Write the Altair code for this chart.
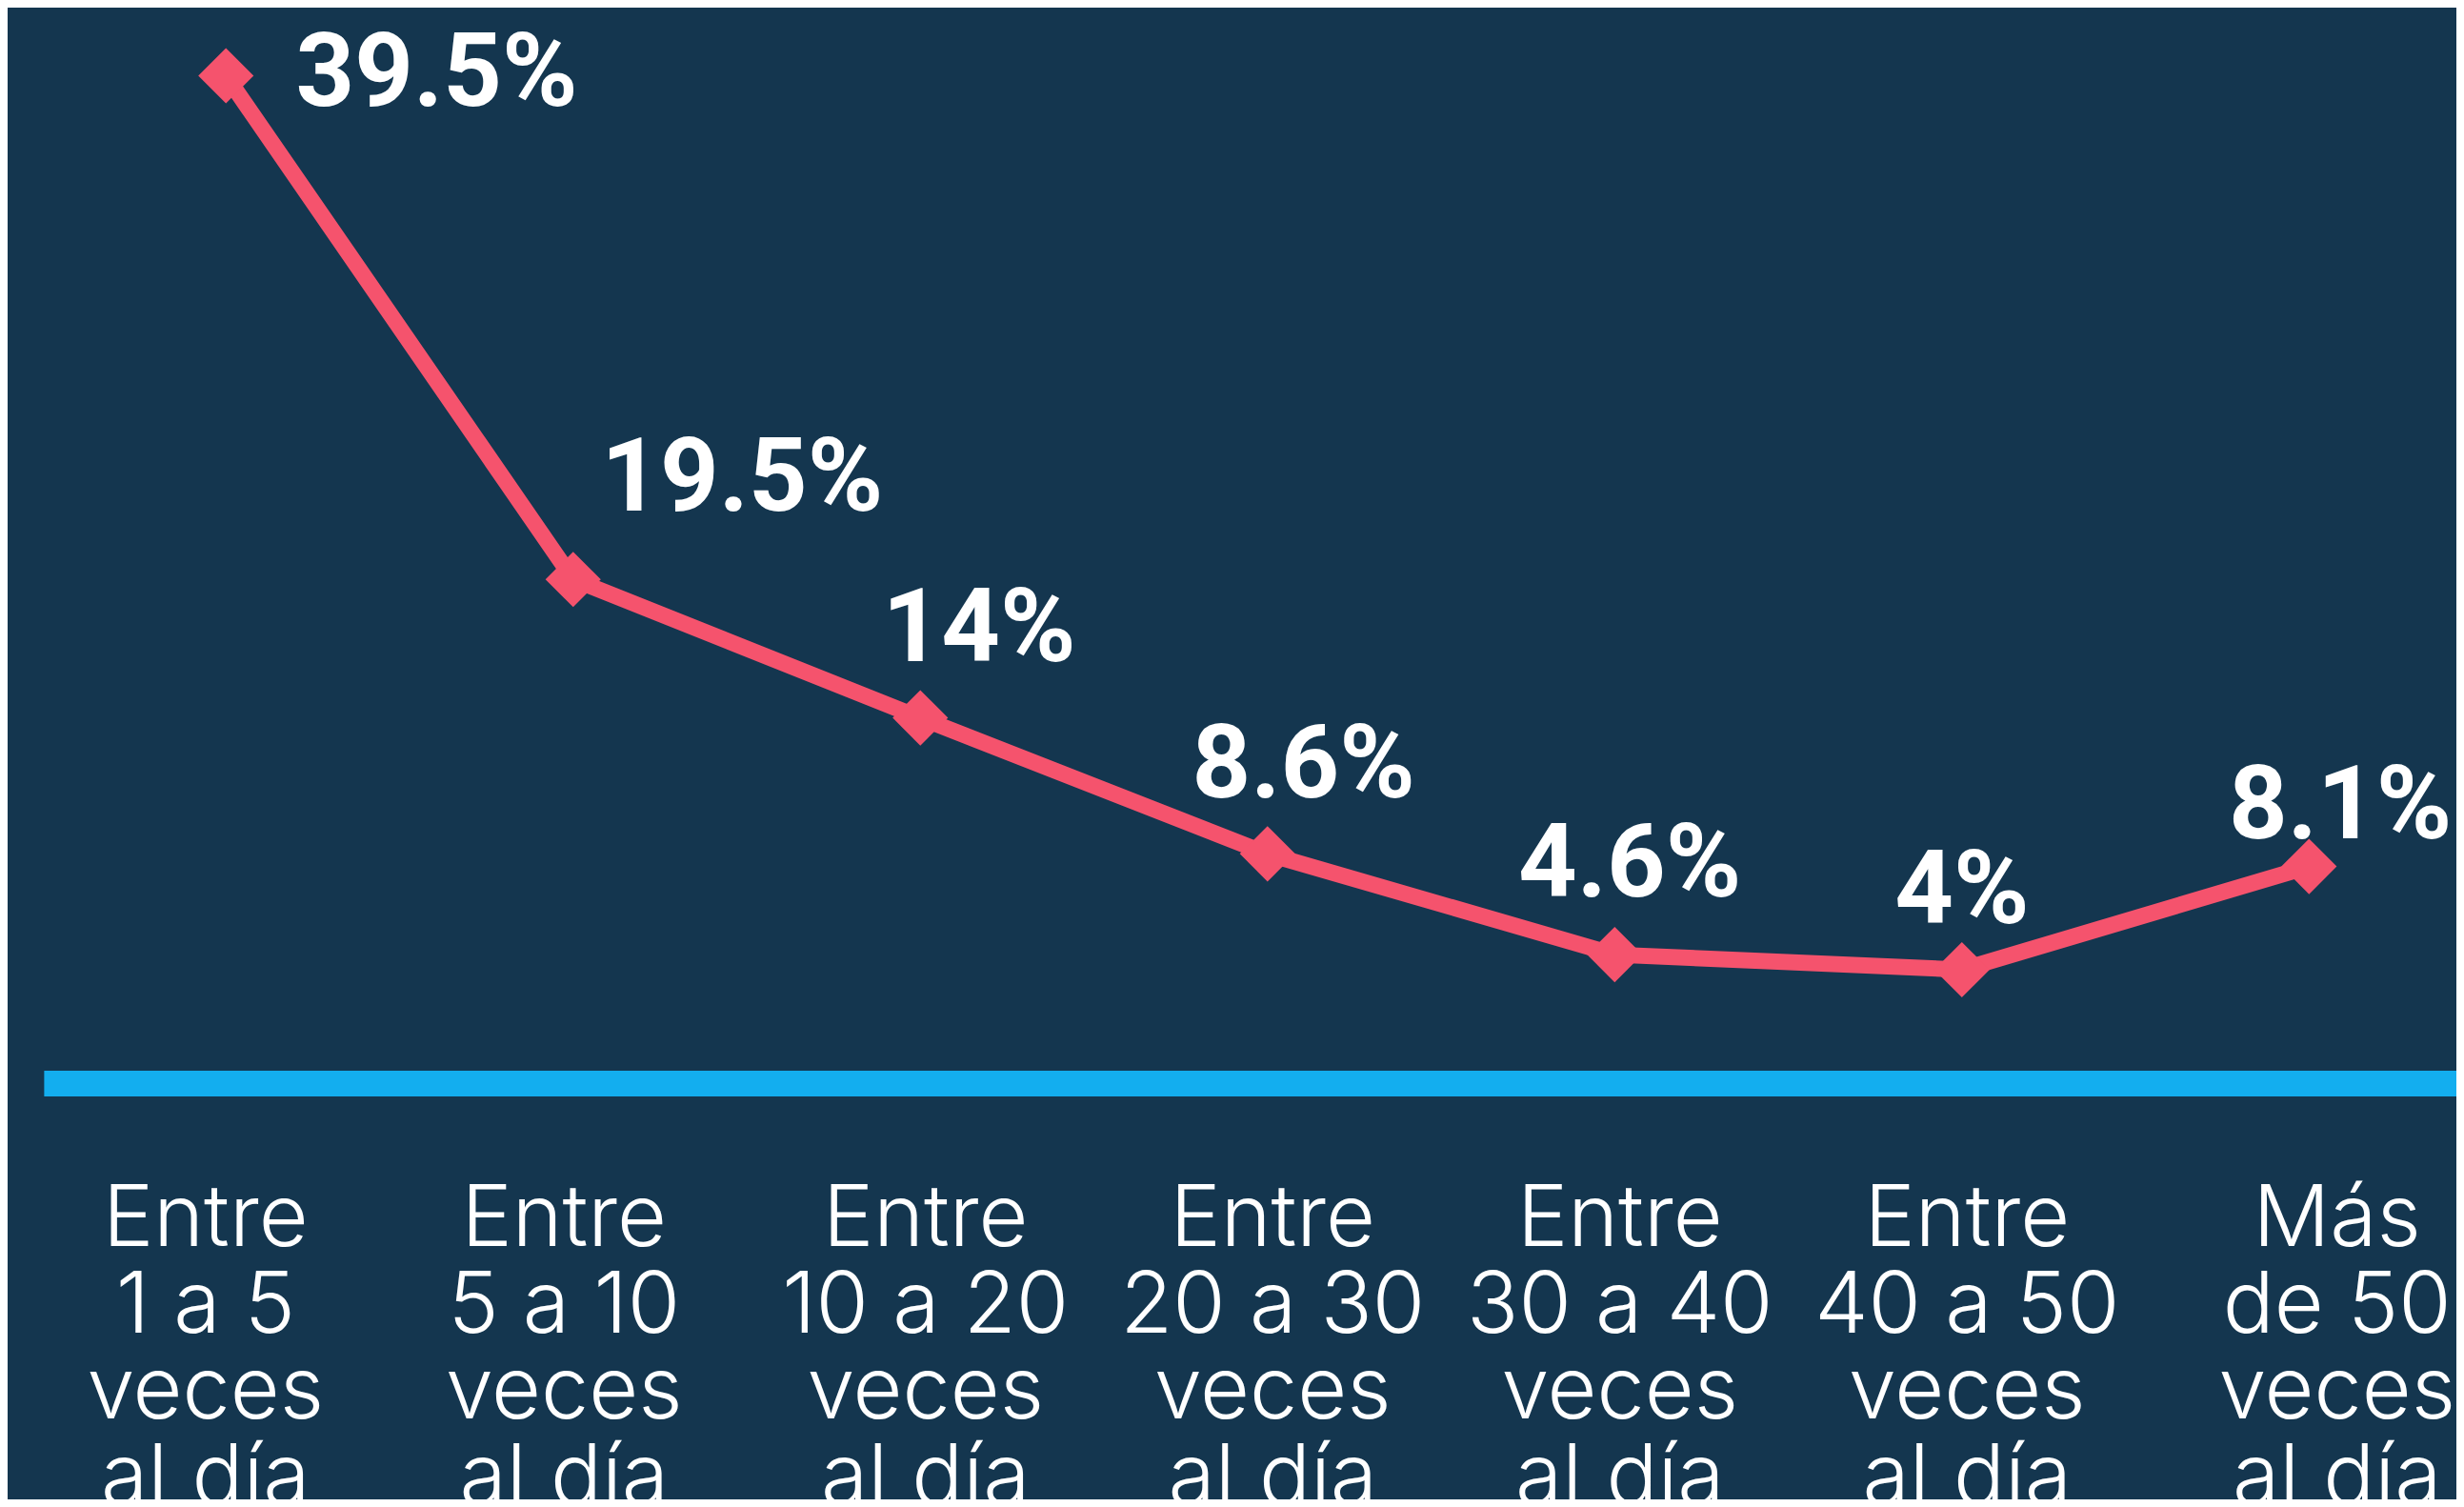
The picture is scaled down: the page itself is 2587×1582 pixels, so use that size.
import altair as alt
import pandas as pd

# ---- data ----
categories = [
    "Entre 1 a 5 veces al día",
    "Entre 5 a 10 veces al día",
    "Entre 10 a 20 veces al día",
    "Entre 20 a 30 veces al día",
    "Entre 30 a 40 veces al día",
    "Entre 40 a 50 veces al día",
    "Más de 50 veces al día",
]
values = [39.5, 19.5, 14, 8.6, 4.6, 4, 8.1]
value_labels = ["39.5%", "19.5%", "14%", "8.6%", "4.6%", "4%", "8.1%"]

df = pd.DataFrame({"cat": categories, "val": values, "lab": value_labels})

# ---- styles ----
BG = "#14364F"
LINE = "#F5536D"
BASE = "#13AEEF"
# value-label placement (dx, dy) relative to each point, in pixels
label_offsets = [(222, 0), (178, -104), (62, -92), (38, -92), (16, -93), (0, -81), (33, -62)]

label_expr = (
    "[slice(datum.label, 0, indexof(datum.label, ' ')), "
    "slice(datum.label, indexof(datum.label, ' ') + 1, indexof(datum.label, ' veces')), "
    "'veces', 'al día']"
)

x_enc = alt.X(
    "cat:N",
    sort=categories,
    scale=alt.Scale(type="point", padding=0.4746, align=0.553),
    axis=alt.Axis(
        title=None,
        labelExpr=label_expr,
        labelAngle=0,
        labelColor="#FFFFFF",
        labelFont="Inter",
        labelFontSize=90,
        labelFontWeight=300,
        labelLineHeight=91,
        labelBaseline="top",
        labelAlign="center",
        labelPadding=100,
        labelOffset={
            "condition": [
                {"test": f"datum.value === '{categories[0]}'", "value": -22},
                {"test": f"datum.value === '{categories[1]}'", "value": -10},
                {"test": f"datum.value === '{categories[-1]}'", "value": 29},
            ],
            "value": 5,
        },
        labelOverlap=False,
        labelLimit=0,
        labelFlush=False,
        ticks=False,
        tickSize=0,
        grid=False,
        domainColor=BASE,
        domainWidth=27,
        domainCap="butt",
    ),
)
y_enc = alt.Y("val:Q", scale=alt.Scale(domain=[-0.5, 40], nice=False, zero=False), axis=None)

base = alt.Chart(df)

line = base.mark_line(color=LINE, strokeWidth=17, strokeJoin="miter").encode(x=x_enc, y=y_enc)
points = base.mark_point(shape="diamond", filled=True, size=3400, color=LINE, opacity=1).encode(
    x=x_enc, y=y_enc
)

texts = []
for cat, (dx, dy) in zip(categories, label_offsets):
    t = (
        base.transform_filter(alt.datum.cat == cat)
        .mark_text(
            font="Roboto",
            fontSize=108,
            fontWeight="bold",
            color="#FFFFFF",
            align="center",
            baseline="middle",
            dx=dx,
            dy=dy,
        )
        .encode(x=x_enc, y=y_enc, text="lab:N")
    )
    texts.append(t)

chart = (
    alt.layer(line, points, *texts)
    .properties(
        width=2541,
        height=1074,
        autosize=alt.AutoSizeParams(type="none"),
        padding={"left": 38, "top": 56, "right": 0, "bottom": 436},
        background=BG,
    )
    .configure_view(stroke=None)
)

chart.save("out.html", embed_options={"renderer": "svg", "actions": False})
